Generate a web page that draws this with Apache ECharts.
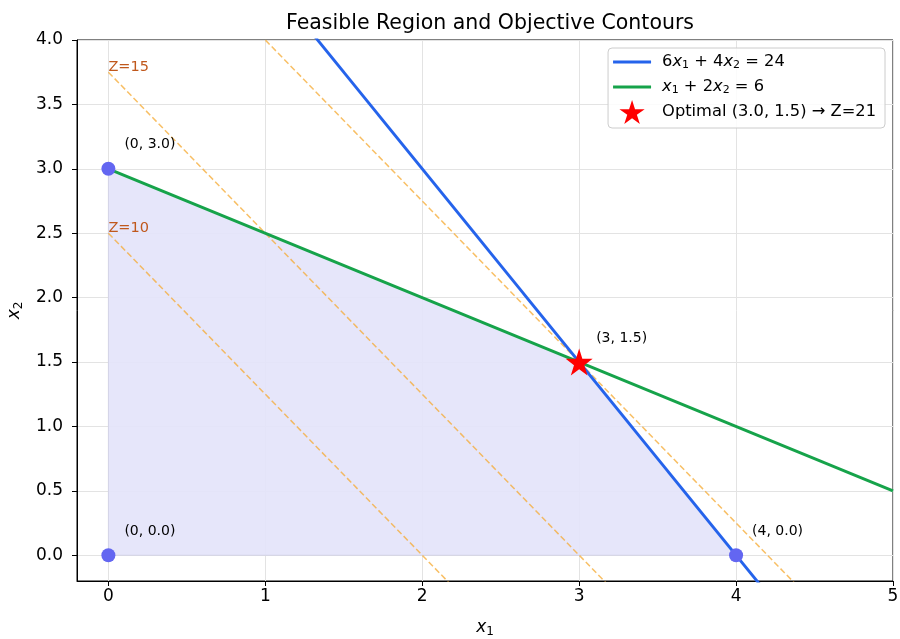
<!DOCTYPE html>
<html><head><meta charset="utf-8">
<script src="https://cdn.jsdelivr.net/npm/echarts@6/dist/echarts.min.js"></script>
<style>html,body{margin:0;padding:0;background:#fff}#c{width:900px;height:639px}</style>
</head><body><div id="c"></div>
<script>
// ---- data ----
const X_TICKS = [0, 1, 2, 3, 4, 5];
const Y_TICKS = [0, 0.5, 1, 1.5, 2, 2.5, 3, 3.5, 4];
const X_RANGE = [-0.2, 5];
const Y_RANGE = [-0.2, 4];
// constraint lines [a, b, c] : a*x1 + b*x2 = c
const BLUE_LINE = [6, 4, 24];
const GREEN_LINE = [1, 2, 6];
// objective Z = 5x1 + 4x2
const OBJ = [5, 4];
const Z_LEVELS = [10, 15, 21];
const Z_LABELED = [10, 15];
// feasible region vertices (polygon)
const REGION_X = [0, 0, 3, 4];
const REGION_Y = [0, 3, 1.5, 0];
// labeled corner points
const CORNER_X = [0, 0, 4];
const CORNER_Y = [0, 3, 0];
const CORNER_LABELS = ['(0, 0.0)', '(0, 3.0)', '(4, 0.0)'];
const OPT_POINT = [3, 1.5];
const OPT_LABEL = '(3, 1.5)';
const LEGEND_NAMES = ['6x1+4x2=24', 'x1+2x2=6', 'Optimal (3.0, 1.5) → Z=21'];

const FONT = 'DejaVu Sans';
const LINE_X = [0, 5];
const STAR_PATH = 'path://M0,-1L0.2245,-0.309L0.9511,-0.309L0.3633,0.118L0.5878,0.809L0,0.382L-0.5878,0.809L-0.3633,0.118L-0.9511,-0.309L-0.2245,-0.309Z';
const LEGEND_LINE_PATH = 'path://M0,0M0,10.5H38V13.5H0ZM38,24';

function linePts(coef) {
  return LINE_X.map(x => [x, (coef[2] - coef[0] * x) / coef[1]]);
}
function contourPts(z) {
  return LINE_X.map(x => [x, (z - OBJ[0] * x) / OBJ[1]]);
}

const series = [];
series.push({
  type: 'custom', name: 'region', z: 1, silent: true,
  data: [0],
  renderItem: function (params, api) {
    const pts = REGION_X.map((x, i) => api.coord([x, REGION_Y[i]]));
    return { type: 'polygon', shape: { points: pts },
      style: { fill: 'rgba(228,228,250,0.92)', stroke: 'rgba(200,200,225,0.6)', lineWidth: 1 } };
  }
});
Z_LEVELS.forEach(z => {
  const pts = contourPts(z);
  series.push({
    type: 'line', name: 'Z' + z, data: pts, symbol: 'none', z: 2, silent: true,
    lineStyle: { color: 'rgba(245,170,50,0.75)', width: 1.5, type: [6, 3] },
    markPoint: Z_LABELED.indexOf(z) >= 0 ? {
      symbol: 'circle', symbolSize: 0, silent: true,
      data: [{ coord: pts[0] }],
      label: { show: true, formatter: 'Z=' + z, position: 'inside', align: 'left', verticalAlign: 'bottom',
        offset: [0, 3], color: '#c0581c', fontFamily: FONT, fontSize: 14.5 }
    } : undefined
  });
});
series.push({
  type: 'line', name: LEGEND_NAMES[0], data: linePts(BLUE_LINE), symbol: 'none', z: 3,
  lineStyle: { color: '#2563eb', width: 2.9 }, itemStyle: { color: '#2563eb' }
});
series.push({
  type: 'line', name: LEGEND_NAMES[1], data: linePts(GREEN_LINE), symbol: 'none', z: 3,
  lineStyle: { color: '#16a34a', width: 2.9 }, itemStyle: { color: '#16a34a' }
});
series.push({
  type: 'scatter', name: 'corners', z: 4, symbolSize: 14,
  itemStyle: { color: '#6366f1', opacity: 1 },
  data: CORNER_X.map((x, i) => ({ value: [x, CORNER_Y[i]], label: { formatter: CORNER_LABELS[i] } })),
  label: { show: true, position: 'inside', align: 'left', verticalAlign: 'middle', offset: [16, -24],
    color: '#000', opacity: 1, fontFamily: FONT, fontSize: 14 }
});
series.push({
  type: 'scatter', name: LEGEND_NAMES[2], z: 5, symbol: STAR_PATH,
  symbolSize: 27, itemStyle: { color: '#ff0000', opacity: 1 },
  data: [{ value: OPT_POINT, label: { formatter: OPT_LABEL } }],
  label: { show: true, position: 'inside', align: 'left', verticalAlign: 'middle', offset: [17, -24],
    color: '#000', opacity: 1, fontFamily: FONT, fontSize: 14 }
});

const legendFmt = {};
legendFmt[LEGEND_NAMES[0]] = '6{i|x}{s|1} + 4{i|x}{s|2} = 24';
legendFmt[LEGEND_NAMES[1]] = '{i|x}{s|1} + 2{i|x}{s|2} = 6';
legendFmt[LEGEND_NAMES[2]] = LEGEND_NAMES[2];

function rich(fs) {
  return {
    i: { fontStyle: 'italic', fontFamily: FONT, fontSize: fs, color: '#000' },
    s: { fontFamily: FONT, fontSize: Math.round(fs * 0.7), color: '#000', verticalAlign: 'bottom', padding: [Math.round(fs * 0.45), 0, 0, 0] }
  };
}

const option = {
  animation: false,
  title: { text: 'Feasible Region and Objective Contours', left: 485, top: 8, textAlign: 'center',
    textStyle: { fontFamily: FONT, fontWeight: 'normal', fontSize: 20.5, color: '#000' } },
  grid: { left: 77, right: 7, top: 40, bottom: 58, containLabel: false, outerBoundsMode: 'none',
    show: true, borderColor: '#000', borderWidth: 1, backgroundColor: 'transparent' },
  legend: {
    orient: 'vertical', right: 15, top: 48, itemGap: 1, itemWidth: 38, itemHeight: 24,
    padding: [2, 9, 4, 5], borderColor: '#cccccc', borderWidth: 1, borderRadius: 4,
    backgroundColor: 'rgba(255,255,255,0.85)',
    data: [
      { name: LEGEND_NAMES[0], icon: LEGEND_LINE_PATH },
      { name: LEGEND_NAMES[1], icon: LEGEND_LINE_PATH },
      { name: LEGEND_NAMES[2], icon: STAR_PATH }
    ],
    formatter: n => legendFmt[n],
    textStyle: { fontFamily: FONT, fontSize: 16.3, color: '#000', padding: [0, 0, 0, 6], rich: rich(16.3) }
  },
  xAxis: {
    type: 'value', min: X_RANGE[0], max: X_RANGE[1],
    name: '{i|x}{s|1}', nameLocation: 'middle', nameGap: 37,
    nameTextStyle: { fontFamily: FONT, fontSize: 17, color: '#000', rich: rich(17) },
    axisLine: { show: true, onZero: false, lineStyle: { color: '#000', width: 1 } },
    axisTick: { show: true, inside: false, length: 5, customValues: X_TICKS, lineStyle: { color: '#000' } },
    axisLabel: { customValues: X_TICKS, margin: 7, fontFamily: FONT, fontSize: 17, color: '#000', formatter: v => String(v) },
    splitLine: { show: true, lineStyle: { color: '#e3e3e3', width: 1 } }
  },
  yAxis: {
    type: 'value', min: Y_RANGE[0], max: Y_RANGE[1],
    name: '{i|x}{s|2}', nameLocation: 'middle', nameGap: 51, nameRotate: 90,
    nameTextStyle: { fontFamily: FONT, fontSize: 17, color: '#000', rich: rich(17) },
    axisLine: { show: true, onZero: false, lineStyle: { color: '#000', width: 1 } },
    axisTick: { show: true, inside: false, length: 5, customValues: Y_TICKS, lineStyle: { color: '#000' } },
    axisLabel: { customValues: Y_TICKS, margin: 14, fontFamily: FONT, fontSize: 17, color: '#000', formatter: v => v.toFixed(1) },
    splitLine: { show: true, lineStyle: { color: '#e3e3e3', width: 1 } }
  },
  series: series
};

const chart = echarts.init(document.getElementById('c'), null, { renderer: 'canvas' });
chart.setOption(option);
</script></body></html>
